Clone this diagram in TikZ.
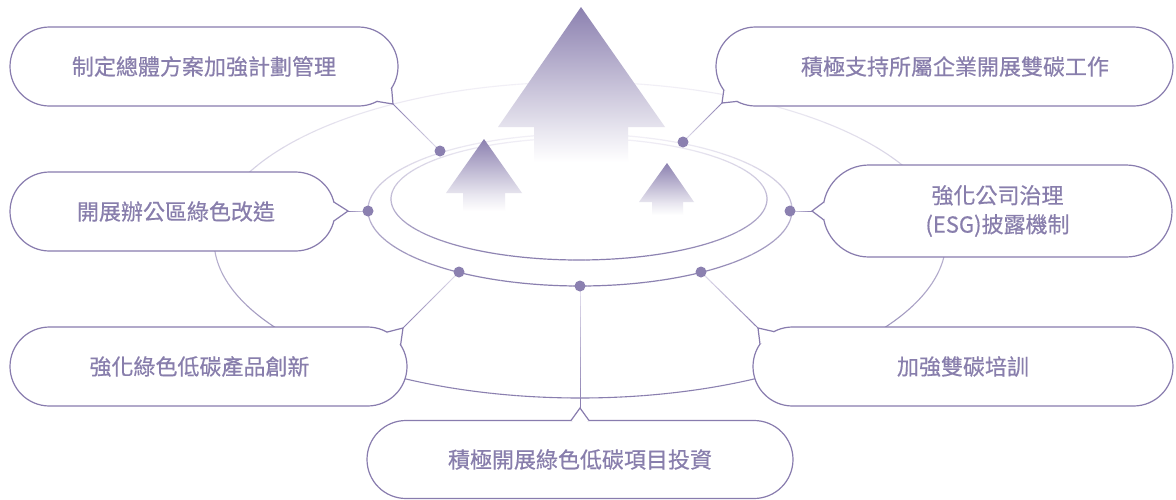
\documentclass[tikz,border=0pt]{standalone}
\usepackage{fontspec}
\newfontfamily\cjk[FakeBold=0.5]{Noto Sans CJK TC}
\usetikzlibrary{calc}
\definecolor{boxc}{RGB}{136,124,174}
\definecolor{txtc}{RGB}{136,126,172}
\definecolor{dotc}{RGB}{139,128,176}
\definecolor{ellDark}{RGB}{136,125,174}
\definecolor{ellLight}{RGB}{242,240,247}
\definecolor{connDark}{RGB}{140,128,178}
\definecolor{connLight}{RGB}{225,221,236}
\definecolor{arrc}{RGB}{140,129,176}
\tikzset{
  bubble/.style={draw=boxc, line width=1.2pt, fill=white, rounded corners=39.5pt,
    minimum height=79pt, text=txtc, font=\cjk\fontsize{22}{29}\selectfont,
    align=center, inner sep=0pt},
  ptr/.style={draw=boxc, line width=1.2pt, line join=miter},
  dotn/.style={circle, fill=dotc, minimum size=11pt, inner sep=0pt},
  headshade/.style={top color=arrc, bottom color=arrc!22!white, draw=none},
  shaftshade/.style={top color=arrc!22!white, bottom color=white, draw=none},
}
\newcommand\fadeconn[2]{%
  \foreach \i in {0,...,11} {
    \pgfmathsetmacro\pa{\i/12}
    \pgfmathsetmacro\pb{(\i+1)/12}
    \pgfmathtruncatemacro\pc{100-\i*100/11}
    \draw[line width=1pt, color=connDark!\pc!connLight] ($(#1)!\pa!(#2)$) -- ($(#1)!\pb!(#2)$);
  }}
\newcommand\pointer[4]{%
  \fill[white] (#1) -- (#2) -- (#3) -- ($(#1)!0.5!(#3)!5pt!(#4.center)$) -- cycle;
  \draw[ptr] (#1) -- (#2) -- (#3);}
\begin{document}
\begin{tikzpicture}[x=1pt,y=-1pt]
\useasboundingbox (0,0) rectangle (1176,499);
\fill[white] (0,0) rectangle (1176,499);
% ellipses with vertical stroke gradient
\foreach \cx/\cy/\rx/\ry/\lw in {580/240/366/158/1.1, 580/210/212/76/1.2, 579/199/188/61/1.2} {
  \foreach \a in {0,4,...,356} {
    \pgfmathtruncatemacro\p{50+50*sin(\a+2)}
    \draw[line width=\lw pt, color=ellDark!\p!ellLight]
      plot[domain=\a:\a+4, samples=5] ({\cx+\rx*cos(\x)},{\cy+\ry*sin(\x)});
  }
}
% arrows: head and shaft shaded separately
\shade[shaftshade] (628,126.5) rectangle (534,162);
\shade[headshade] (581,7) -- (665,127) -- (498,127) -- cycle;
\shade[shaftshade] (505,192.5) rectangle (463,211);
\shade[headshade] (484,139) -- (522,193) -- (446,193) -- cycle;
\shade[shaftshade] (683,201.5) rectangle (652,215);
\shade[headshade] (667,163) -- (694,202) -- (639,202) -- cycle;
% dot positions
\coordinate (p1) at (440,151);
\coordinate (p2) at (683,142);
\coordinate (p3) at (368,211);
\coordinate (p4) at (790,211);
\coordinate (p5) at (459,272);
\coordinate (p6) at (701,272);
\coordinate (p7) at (580,286);
% pointer tips and bases
\coordinate (t1) at (393,104);   \coordinate (a1) at (377,101.4); \coordinate (c1) at (391.6,88);
\coordinate (t2) at (722,103);   \coordinate (a2) at (737,101.4); \coordinate (c2) at (723.8,90);
\coordinate (t3) at (348,211);   \coordinate (a3) at (333.8,202); \coordinate (c3) at (333.8,221);
\coordinate (t4) at (812,211);   \coordinate (a4) at (823.9,202); \coordinate (c4) at (823.9,220);
\coordinate (t5) at (403,328);   \coordinate (a5) at (387,332.1); \coordinate (c5) at (400.6,345);
\coordinate (t6) at (758,328);   \coordinate (a6) at (774,331.6); \coordinate (c6) at (760,344);
\coordinate (t7) at (580,408);   \coordinate (a7) at (571,420.5); \coordinate (c7) at (589,420.5);
% connectors
\foreach \k in {1,...,7} { \fadeconn{t\k}{p\k} }
% boxes
\node[bubble, minimum width=388pt] (n1) at (204,66.5) {制定總體方案加強計劃管理};
\node[bubble, minimum width=457pt] (n2) at (944.5,66.5) {\hspace*{21pt}積極支持所屬企業開展雙碳工作};
\node[bubble, minimum width=325pt] (n3) at (172.5,211.5) {\hspace*{7pt}開展辦公區綠色改造};
\node[bubble, minimum width=349pt, minimum height=92pt, rounded corners=46pt] (n4) at (997.5,211) {強化公司治理\\(ESG)披露機制};
\node[bubble, minimum width=397pt] (n5) at (208.5,366.5) {強化綠色低碳產品創新\hspace*{18pt}};
\node[bubble, minimum width=420pt] (n6) at (963,366.5) {加強雙碳培訓};
\node[bubble, minimum width=426pt, minimum height=78pt, rounded corners=39pt] (n7) at (580,459.5) {積極開展綠色低碳項目投資};
% pointers
\foreach \k in {1,...,7} { \pointer{a\k}{t\k}{c\k}{n\k} }
% dots
\foreach \k in {1,...,7} { \node[dotn] (d\k) at (p\k) {}; }
\end{tikzpicture}
\end{document}
